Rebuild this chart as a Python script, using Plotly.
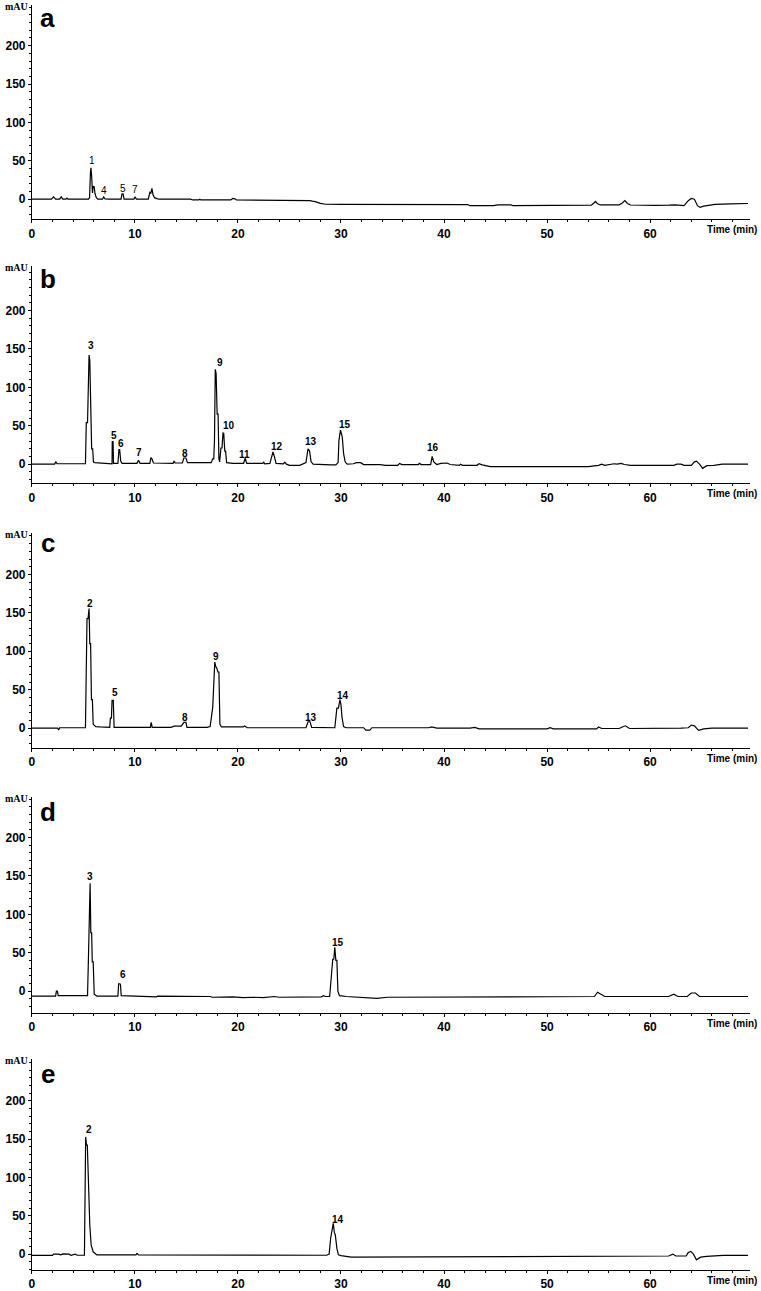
import plotly.graph_objects as go

W, H = 761, 1291

# ---------------- data (time in min, absorbance in mAU) ----------------
a_t = [0.0, 1.9, 2.1, 2.3, 2.7, 2.85, 3.0, 3.3, 3.4, 3.5, 5.5, 5.6, 5.68, 5.73, 5.8, 5.88, 5.95, 6.05, 6.12, 6.25,
       6.4, 6.85, 6.96, 7.1, 7.5, 8.65, 8.75, 8.85, 8.95, 9.9, 10.0, 10.15, 11.3, 11.45, 11.55, 11.65, 11.75, 11.9,
       12.2, 12.4, 15.4, 15.6, 16.2, 16.3, 16.4, 19.3, 19.5, 19.7, 19.85, 21.4, 21.6, 22.0, 27.0, 27.2, 27.5, 28.0,
       28.5, 30.0, 39.6, 39.8, 40.2, 42.3, 42.5, 44.8, 45.2, 46.5, 46.7, 52.3, 52.5, 54.3, 54.55, 54.7, 54.9, 55.2,
       57.0, 57.3, 57.55, 57.8, 58.1, 59.8, 60.5, 61.8, 62.4, 63.3, 63.7, 64.0, 64.3, 64.6, 64.85, 65.2, 65.8, 66.3,
       67.8, 69.5]
a_y = [0, 0, 3, 0, 0, 3, 0, 0, 1.5, 0, 0, 2, 34, 41, 30, 8, 17, 16, 8, 2,
       0, 0, 3, 0.5, 0, 0, 7, 7, 0, 0, 3, 0, 0, 9, 8, 14, 6, 2,
       0.5, 0, 0, -1, -1, 0, -1, -1, 1, 0.5, -1, -1, -1.8, -1.5, -1.8, -2.6, -3.2, -5.5,
       -6.6, -6.8, -6.8, -6.2, -6.8, -7, -8.5, -8.5, -7.5, -7.5, -8.5, -8.5, -7.8, -7.8, -5, -3, -6, -7.5,
       -7.3, -5, -1.8, -5.5, -7.6, -8.3, -8, -7.8, -7.5, -8.5, -2, 1, 0, -8.5, -10.7, -9, -8, -6.8,
       -6, -5.6]

b_t = [0, 2.2, 2.33, 2.45, 5.2, 5.28, 5.4, 5.48, 5.55, 5.62, 5.68, 5.74, 5.8, 5.9, 5.97, 6.1, 6.8, 7.0, 7.78, 7.8,
       7.88, 7.92, 8.35, 8.45, 8.52, 8.62, 8.75, 10.2, 10.35, 10.5, 11.45, 11.55, 11.65, 11.8, 12.5, 13.7, 13.8, 13.9,
       14.6, 14.75, 14.95, 15.1, 17.4, 17.55, 17.65, 17.72, 17.8, 17.88, 17.98, 18.07, 18.15, 18.22, 18.35, 18.45,
       18.55, 18.62, 18.72, 18.8, 18.9, 19.5, 20.55, 20.7, 20.85, 22.4, 22.5, 22.6, 23.1, 23.2, 23.4, 23.55, 23.7,
       24.4, 24.55, 24.7, 25.0, 26.0, 26.6, 26.8, 26.95, 27.1, 27.3, 29.0, 29.5, 29.72, 29.8, 29.95, 30.12, 30.25,
       30.4, 30.6, 31.2, 31.5, 31.9, 32.2, 33.8, 34.3, 35.5, 35.7, 35.9, 37.5, 37.6, 37.8, 38.7, 38.85, 39.0, 39.3,
       39.7, 40.3, 40.6, 41.5, 41.6, 41.8, 43.2, 43.4, 43.7, 44.5, 54.0, 55.0, 55.3, 55.6, 56.2, 56.5, 56.8, 57.2,
       57.5, 58.1, 62.3, 62.6, 63.0, 63.3, 64.0, 64.3, 64.5, 64.8, 65.1, 65.5, 66.2, 67.0, 69.5]
b_y = [0, 0, 3, 0.5, 0.5, 54, 54, 142, 142, 135, 82, 82, 20, 20, 3, 2, 1.5, 0.5, 0.5, 29.5,
       29.5, 1, 1, 19, 19, 4, 1, 1, 5, 1, 1, 8.5, 7, 1.5, 1, 1, 4, 1.5,
       1.5, 8, 8, 2, 2, 7, 7, 30, 123.5, 118, 65, 65, 7, 3, 21, 21,
       40.6, 40, 17, 17, 2, 1, 1, 7.7, 1, 1, 2.5, 0.5, 1, 7, 16, 9, 1,
       0.5, 2.5, 0, -1.5, -1.5, 2, 20, 17, 3, 0, -1, -1, 2, 31, 44.4, 36, 14,
       3, 0, 0.5, 2, 2, -0.5, -0.5, -1.7, -1.5, 1, -0.5, -0.5, 1, -0.5, -0.5, 10, 3, -0.5,
       1, 1.5, -0.5, -1.5, 0, -1.5, -1.5, 0.5, -1, -3.2, -3.2, -1.5, 0, -1.5, -0.5, 0.5, 0, 1,
       -0.5, -1.5, -1.5, 0, 0, -1.5, -1.5, 3, 4, 0, -5.5, -2, -1.5, 0, 0]

c_t = [0, 2.5, 2.6, 2.7, 5.2, 5.35, 5.45, 5.55, 5.62, 5.7, 5.78, 5.87, 5.95, 6.2, 6.6, 7.1, 7.55, 7.62, 7.72, 7.78,
       7.9, 7.98, 9.5, 11.5, 11.58, 11.68, 13.5, 13.8, 14.5, 14.75, 14.95, 15.05, 17.0, 17.3, 17.55, 17.65, 17.75,
       17.85, 17.95, 18.05, 18.15, 18.25, 18.4, 20.5, 20.65, 20.9, 22.4, 22.6, 23.0, 26.6, 26.8, 27.0, 27.15, 29.4,
       29.6, 29.75, 29.9, 30.0, 30.1, 30.25, 30.5, 32.2, 32.4, 32.8, 33.0, 38.5, 38.8, 39.3, 42.5, 43.0, 43.4, 50.0,
       50.3, 50.6, 54.8, 55.0, 55.3, 57.0, 57.3, 57.6, 58.0, 62.5, 63.0, 63.7, 64.0, 64.3, 64.7, 65.2, 66.0, 69.5]
c_y = [0, 0, -2.5, 0.5, 0.5, 142.5, 142.5, 155.7, 110, 110, 37, 37, 5, 2, 1.5, 1, 1, 13, 13, 36,
       36, 1, 1, 1, 7.5, 1, 1, 2.5, 2.5, 7.5, 7.5, 1, 1, 2, 27, 71, 86,
       80, 78, 73, 73, 5, 1.5, 1.5, 2.8, 0.5, 0.5, 1.2, 0.5, 0.5, 8.3, 8.3, 1, 0.5,
       26, 26, 37, 30, 14, 2, 0.5, 0.5, -2.6, -2.6, 0.5, 0.5, 1.5, 0, 0, 1, -1, -1,
       0.5, -1, -1, 1.5, -0.5, -0.5, 1.5, 3, -0.5, -0.5, 0, 0.5, 4, 3, -3, -1, 0, 0]

d_t = [0, 2.3, 2.38, 2.48, 2.55, 5.4, 5.5, 5.58, 5.65, 5.72, 5.8, 5.86, 5.95, 6.05, 6.3, 8.35, 8.42, 8.55, 8.6, 8.67,
       10.7, 10.8, 12.1, 12.2, 17.3, 17.5, 18.8, 19.5, 20.5, 21.5, 22.5, 23.5, 24.0, 28.1, 28.3, 28.5, 28.9, 29.05,
       29.2, 29.3, 29.4, 29.5, 29.6, 29.7, 29.85, 30.5, 33.5, 34.5, 44.0, 50.0, 54.6, 54.9, 55.2, 55.6, 59.5, 61.8,
       62.3, 62.7, 63.6, 64.0, 64.4, 64.8, 65.5, 69.5]
d_y = [-6.5, -6.5, 0, 0, -6, -6, 49, 140.6, 140.6, 76, 76, 38, 38, -4, -6.5, -6.5, 9.6, 9.6, 8, -6,
       -6.5, -7.5, -7.5, -6.5, -7, -8, -8, -7.5, -8.5, -8, -8.5, -7, -8, -7.5, -6, -7, -7, 25,
       41.5, 41.5, 57, 40, 40, 0, -6, -7, -9.5, -8, -7.5, -7.5, -7, -1.5, -4, -7, -7, -7,
       -4, -7, -7, -2.5, -2.5, -7, -7, -7]

e_t = [0, 2.0, 2.1, 2.6, 2.8, 3.0, 3.6, 3.8, 4.2, 4.4, 5.1, 5.22, 5.3, 5.38, 5.45, 5.53, 5.62, 5.75, 5.95, 6.3,
       10.1, 10.2, 10.35, 28.6, 28.85, 29.0, 29.15, 29.25, 29.35, 29.45, 29.6, 29.75, 30.0, 31.0, 61.8, 62.2, 62.5,
       63.5, 63.7, 63.95, 64.2, 64.5, 64.9, 65.5, 67.1, 69.5]
e_y = [-1.7, -1.7, 0, 0, -1, 0.3, 0, -1.5, 0, -1.5, -1.5, 152.8, 142, 142, 112, 60, 38, 12, 3, -1,
       -1, 1, -1, -1.5, 0, 21, 34, 40, 28.6, 25, 7.5, -1, -2, -3.9, -2.5, 0, -2.5,
       -2.5, 2, 3.5, 0, -7.4, -4, -3, -1.7, -1.7]

# peak labels
a_lab = ["1", "4", "5", "7"]
a_lab_t = [5.83, 6.96, 8.8, 10.0]
a_lab_y = [50, 11.5, 14, 12]

b_lab = ["3", "5", "6", "7", "8", "9", "10", "11", "12", "13", "15", "16"]
b_lab_t = [5.74, 8.0, 8.65, 10.42, 14.9, 18.3, 19.1, 20.6, 23.8, 27.1, 30.4, 38.95]
b_lab_y = [155, 37, 27, 15, 14, 132.5, 50, 12.4, 23, 29.5, 51, 22]

c_lab = ["2", "5", "8", "9", "13", "14"]
c_lab_t = [5.66, 8.02, 14.87, 17.88, 27.1, 30.2]
c_lab_y = [162, 46, 14, 93, 14, 42.5]

d_lab = ["3", "6", "15"]
d_lab_t = [5.65, 8.8, 29.7]
d_lab_y = [149, 22, 63]

e_lab = ["2", "14"]
e_lab_t = [5.52, 29.67]
e_lab_y = [163, 45]

panel_letters = ["a", "b", "c", "d", "e"]
y_ticks = [0, 50, 100, 150, 200]
x_ticks = [0, 10, 20, 30, 40, 50, 60]

# ---------------- layout geometry (pixels) ----------------
panels = [
    (a_t, a_y, a_lab, a_lab_t, a_lab_y, 5, 220, [-26, 253]),
    (b_t, b_y, b_lab, b_lab_t, b_lab_y, 267, 485, [-24.7, 258]),
    (c_t, c_y, c_lab, c_lab_t, c_lab_y, 535, 751, [-26, 254]),
    (d_t, d_y, d_lab, d_lab_t, d_lab_y, 800, 1017, [-28.6, 253]),
    (e_t, e_y, e_lab, e_lab_t, e_lab_y, 1063, 1275, [-20.8, 254.5]),
]
letter_base = [29, 291, 556, 826, 1089]

X0, X1 = 29, 750
x_dom = [X0 / W, X1 / W]


def py(p):
    return 1 - p / H


fig = go.Figure()
annotations = []
layout = dict(
    width=W, height=H,
    margin=dict(l=0, r=0, t=0, b=0),
    paper_bgcolor="white", plot_bgcolor="white",
    showlegend=False,
    font=dict(family="Liberation Sans, Arial, sans-serif", color="black"),
)

for i, (t, y, lab, lt, ly, top, bot, yr) in enumerate(panels):
    n = "" if i == 0 else str(i + 1)
    xa, ya = "x" + n, "y" + n
    fig.add_trace(go.Scatter(x=t, y=y, mode="lines", xaxis=xa, yaxis=ya,
                             line=dict(color="black", width=1.2), hoverinfo="skip"))
    layout["xaxis" + n] = dict(
        domain=x_dom, anchor=ya, range=[0, 69.7], showgrid=False, zeroline=False,
        showline=True, linecolor="black", linewidth=1,
        ticks="outside", ticklen=3, tickwidth=1, tickcolor="black",
        tickvals=x_ticks, ticktext=[str(v) for v in x_ticks],
        minor=dict(ticks="outside", dtick=2, tick0=0, ticklen=2, tickcolor="black", tickwidth=1),
        tickfont=dict(size=12, weight="bold", family="Liberation Sans, Arial", color="black"),
        fixedrange=True,
    )
    layout["yaxis" + n] = dict(
        domain=[py(bot), py(top)], anchor=xa, range=yr, showgrid=False, zeroline=False,
        showline=True, linecolor="black", linewidth=1,
        ticks="outside", ticklen=3, tickwidth=1, tickcolor="black",
        tickvals=y_ticks, ticktext=[str(v) for v in y_ticks],
        minor=dict(ticks="outside", dtick=10, tick0=0, ticklen=2, tickcolor="black", tickwidth=1),
        tickfont=dict(size=12, weight="bold", family="Liberation Sans, Arial", color="black"),
        fixedrange=True,
    )
    # peak labels
    for s, xt, yt in zip(lab, lt, ly):
        annotations.append(dict(x=xt, y=yt, xref=xa, yref=ya, text=s, showarrow=False,
                                xanchor="center", yanchor="middle",
                                font=dict(size=10, family="Liberation Sans, Arial", color="black",
                                          weight="normal" if i == 0 else "bold")))
    # mAU
    annotations.append(dict(x=0, y=py(top + 2), xref="paper", yref="paper", text="mAU",
                            showarrow=False, xanchor="left", yanchor="middle",
                            font=dict(size=10, family="Liberation Serif, Times New Roman", weight="bold",
                                      color="black")))
    # panel letter
    annotations.append(dict(x=45 / W, y=py(letter_base[i] + 6), xref="paper", yref="paper",
                            text=panel_letters[i], showarrow=False, xanchor="center", yanchor="bottom",
                            font=dict(size=26, family="Liberation Sans, Arial", weight="bold", color="black")))
    # Time (min)
    annotations.append(dict(x=759 / W, y=py(bot + 10), xref="paper", yref="paper", text="Time (min)",
                            showarrow=False, xanchor="right", yanchor="middle",
                            font=dict(size=10, family="Liberation Sans Narrow, Liberation Sans, Arial",
                                      weight="bold", color="black")))

layout["annotations"] = annotations
fig.update_layout(**layout)
fig.write_html("out.html", config={"displayModeBar": False, "staticPlot": True},
               post_script="document.body.style.margin='0';document.body.style.overflow='hidden';")
